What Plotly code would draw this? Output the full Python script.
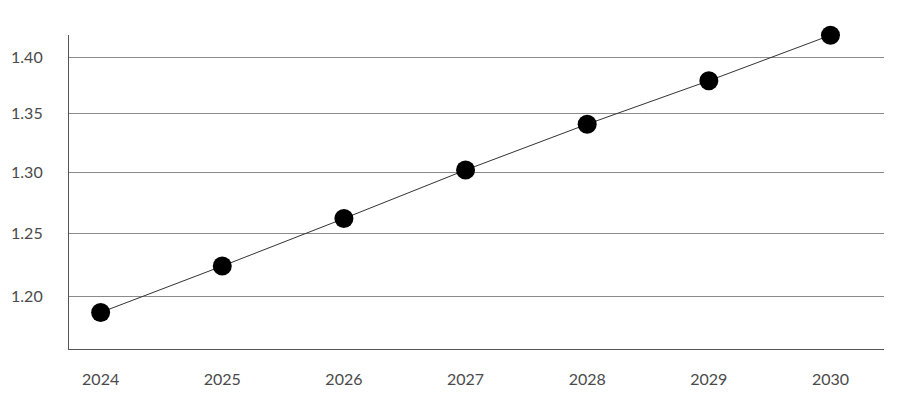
import plotly.graph_objects as go

years = ["2024", "2025", "2026", "2027", "2028", "2029", "2030"]
values = [1.188, 1.224, 1.262, 1.302, 1.341, 1.379, 1.420]
tick_vals = [1.20, 1.25, 1.30, 1.35, 1.40]
tick_text = ["1.20", "1.25", "1.30", "1.35", "1.40"]

fig = go.Figure()
fig.add_trace(go.Scatter(
    x=years, y=values, mode="lines+markers",
    line=dict(color="#333333", width=1),
    marker=dict(color="#000000", size=19),
    cliponaxis=False, showlegend=False,
))

fig.update_layout(
    width=892, height=402,
    margin=dict(l=61, r=16, t=27, b=61, autoexpand=False),
    paper_bgcolor="white", plot_bgcolor="white",
    font=dict(family="Lato, sans-serif", size=16, color="#4a4a4a"),
)
fig.update_xaxes(
    type="category", range=[-0.26, 6.44], automargin=False,
    showgrid=False, showline=True, linecolor="#555555", linewidth=1.2,
    ticks="", ticklabelstandoff=16,
)
fig.update_yaxes(
    type="log", range=[0.0646, 0.15235], automargin=False,
    tickvals=tick_vals, ticktext=tick_text,
    showgrid=True, gridcolor="#8a8a8a", gridwidth=1,
    showline=True, linecolor="#555555", linewidth=1.2,
    zeroline=False, ticks="", ticklabelstandoff=22,
)

fig.write_html("out.html")
